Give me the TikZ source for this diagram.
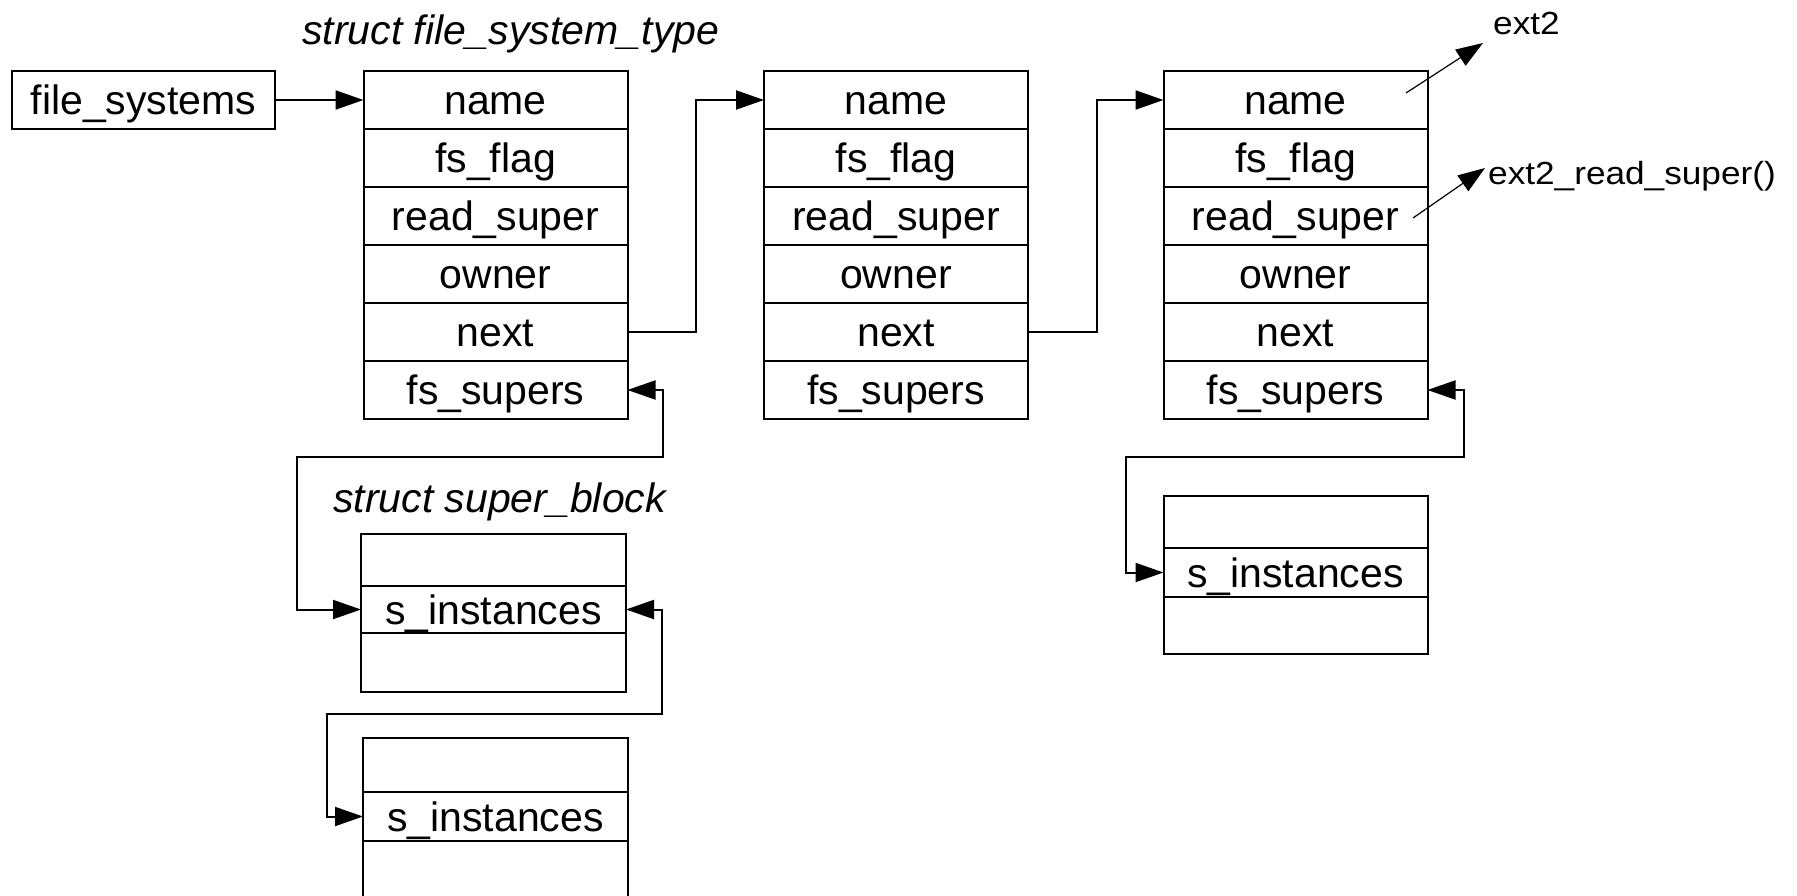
\documentclass[tikz,border=0pt]{standalone}
\usepackage{fontspec}
\setmainfont{Liberation Sans}
\usetikzlibrary{arrows.meta}

\tikzset{
  field/.style={draw, line width=2pt, inner sep=0pt, outer sep=0pt,
    minimum width=264pt, minimum height=58pt,
    text height=29pt, text depth=0pt,
    font=\fontsize{41}{48}\selectfont, anchor=north},
  title/.style={inner sep=0pt, anchor=base west,
    font=\fontsize{41}{48}\selectfont\itshape},
  lab/.style={inner sep=0pt, anchor=base west,
    font=\fontsize{32}{38}\selectfont},
  conn/.style={line width=2pt, -{Triangle[length=28pt,width=19pt]}},
  conn2/.style={line width=2pt,
    {Triangle[length=28pt,width=19pt]}-{Triangle[length=28pt,width=19pt]}},
  fine/.style={line width=1.2pt, -{Triangle[length=27pt,width=19pt]}},
}
\newcommand{\widetext}[1]{\scalebox{1.1}[1]{#1}}

\begin{document}
\begin{tikzpicture}[x=1pt, y=-1pt]
  \useasboundingbox (0,0) rectangle (1797,896);
  \fill[white] (0,0) rectangle (1797,896);
  \clip (0,0) rectangle (1797,896);

  % list head
  \node[field, anchor=center, minimum width=263pt] (fs) at (143.5,100) {file\_systems};

  % captions
  \node[title] (t1) at (302,45) {struct file\_system\_type};
  \node[title] (t2) at (333,512) {struct super\_block};

  % three file_system_type records
  \foreach \p/\x in {a/495.5, b/896, c/1295.5} {
    \foreach \f [count=\i] in {name, fs\_flag, read\_super, owner, next, fs\_supers} {
      \node[field] (\p\i) at (\x, {13+58*\i}) {\f};
    }
  }

  % super_block records
  \node[field, minimum width=265pt, minimum height=52pt] (p1) at (493.5,534) {};
  \node[field, minimum width=265pt, minimum height=47pt] (p2) at (493.5,586) {s\_instances};
  \node[field, minimum width=265pt, minimum height=59pt] (p3) at (493.5,633) {};

  \node[field, minimum width=265pt, minimum height=54pt] (q1) at (495.5,738) {};
  \node[field, minimum width=265pt, minimum height=49pt] (q2) at (495.5,792) {s\_instances};
  \node[field, minimum width=265pt, minimum height=62pt] (q3) at (495.5,841) {};

  \node[field, minimum height=52pt] (r1) at (1295.5,496) {};
  \node[field, minimum height=49pt] (r2) at (1295.5,548) {s\_instances};
  \node[field, minimum height=57pt] (r3) at (1295.5,597) {};

  % list links
  \draw[conn] (fs.east) -- (a1.west);
  \draw[conn] (a5.east) -- ++(68,0) |- (b1.west);
  \draw[conn] (b5.east) -- ++(69,0) |- (c1.west);

  % super block chains
  \coordinate (j1) at (297,457);
  \draw[conn2] (a6.east) -- ++(35.5,0) |- (j1) |- (p2.west);
  \coordinate (j2) at (327,714);
  \draw[conn2] (p2.east) -- ++(36,0) |- (j2) |- (q2.west);
  \coordinate (j3) at (1126,457);
  \draw[conn2] (c6.east) -- ++(36.5,0) |- (j3) |- (r2.west);

  % ext2 entries
  \node[lab] (ext) at (1493,35) {\widetext{ext2}};
  \node[lab] (rdsup) at (1488,185) {\widetext{ext2\_read\_super()}};
  \coordinate (e1) at (1406,93);
  \coordinate (e1tip) at (1483,43);
  \draw[fine] (e1) -- (e1tip);
  \coordinate (e2) at (1413,218);
  \coordinate (e2tip) at (1485,168);
  \draw[fine] (e2) -- (e2tip);
\end{tikzpicture}
\end{document}
